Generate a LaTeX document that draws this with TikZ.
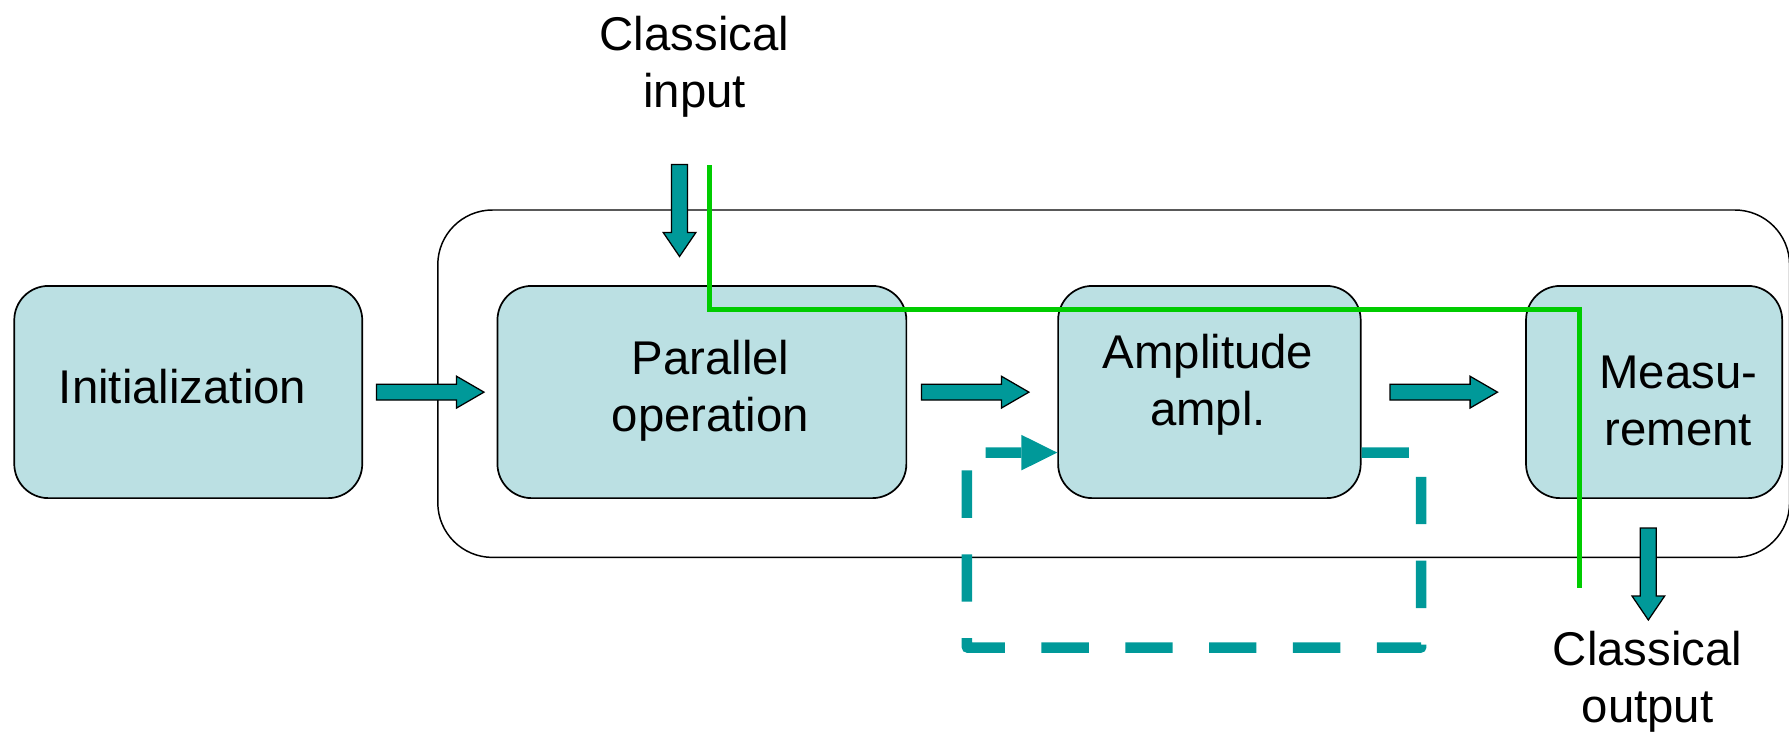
\documentclass[tikz,border=0pt]{standalone}
\usepackage{fontspec}
\setmainfont{Liberation Sans}
\usetikzlibrary{arrows.meta}

\definecolor{stagefill}{RGB}{187,224,227}
\definecolor{flowteal}{RGB}{0,153,153}
\definecolor{signalgreen}{RGB}{0,204,0}

% two centred lines, baseline on the first line
\newcommand\twolines[2]{\begin{tabular}[t]{@{}c@{}}#1\\#2\end{tabular}}

\tikzset{
  stage/.style={draw=black, line width=1.5pt, fill=stagefill, rounded corners=30pt,
                inner sep=0pt, minimum height=186pt},
  corebox/.style={draw=black, line width=1.3pt, rounded corners=48pt, inner sep=0pt},
  lbl/.style={anchor=base, inner sep=0pt, font=\fontsize{41.5}{50}\selectfont},
  blockarrow/.style={draw=black, line width=1.1pt, fill=flowteal, line join=miter},
  feedback/.style={draw=flowteal, line width=9.2pt, dash pattern=on 41.5pt off 32pt,
                   line join=round},
  greenpath/.style={draw=signalgreen, line width=4.2pt},
  % horizontal block arrow, tail at the origin
  hblock/.pic={\draw[blockarrow] (0,-6.9) -- (70.2,-6.9) -- (70.2,-13.9) -- (94.2,0)
                 -- (70.2,13.9) -- (70.2,6.9) -- (0,6.9) -- cycle;},
  % downward block arrow, tail at the origin
  vblock/.pic={\draw[blockarrow] (-7,0) -- (7,0) -- (7,59.6) -- (14.3,59.6) -- (0,80.6)
                 -- (-14.3,59.6) -- (-7,59.6) -- cycle;},
}

\begin{document}
\begin{tikzpicture}[x=1pt,y=-1pt]
\useasboundingbox (0,0) rectangle (1568,642);

% quantum part of the computation
\node[corebox, minimum width=1184.8pt, minimum height=304.5pt] (core) at (976.1,336.3) {};

% stages
\node[stage, minimum width=305pt]   (init) at (165,343.6)    {};
\node[stage, minimum width=358.4pt] (par)  at (615.2,343.6)  {};
\node[stage, minimum width=265.2pt] (amp)  at (1060,343.6)   {};
\node[stage, minimum width=224.5pt] (meas) at (1449.75,343.6) {};

% labels
\node[lbl] (inittext) at (160,353.4)    {Initialization};
\node[lbl] (partext)  at (622.7,327.8)  {\twolines{Parallel}{operation}};
\node[lbl] (amptext)  at (1058.8,322.8) {\twolines{Amplitude}{ampl.}};
\node[lbl] (meastext) at (1471,340.8)   {\twolines{Measu-}{rement}};
\node[lbl] (cin)      at (608.7,44.4)   {\twolines{Classical}{input}};
\node[lbl] (cout)     at (1444,583.1)   {\twolines{Classical}{output}};

% flow between the stages
\pic at (330,343.7)    {hblock};
\pic at (807.6,343.7)  {hblock};
\pic at (1218.3,343.7) {hblock};
\pic at (595.6,144.2)  {vblock};
\pic at (1444.7,462.8) {vblock};

% repetition of the amplitude amplification
\coordinate (fbNE) at (1245.6,396.7);
\coordinate (fbSE) at (1245.6,567.6);
\coordinate (fbSW) at (847.5,567.6);
\coordinate (fbNW) at (847.5,396.7);
\draw[feedback, -{Triangle[length=31.5pt,width=31.2pt,line width=0pt]}]
  ([yshift=-53.1pt]amp.east) -- (fbNE) -- (fbSE) -- (fbSW) -- (fbNW)
  -- ([yshift=-53.1pt]amp.west);

% classical data path
\coordinate (gtop)  at (621.5,145);
\coordinate (gturn) at (1384.2,271);
\coordinate (gbot)  at (1384.2,515.5);
\draw[greenpath] (gtop) |- (gturn) -- (gbot);
\end{tikzpicture}
\end{document}
